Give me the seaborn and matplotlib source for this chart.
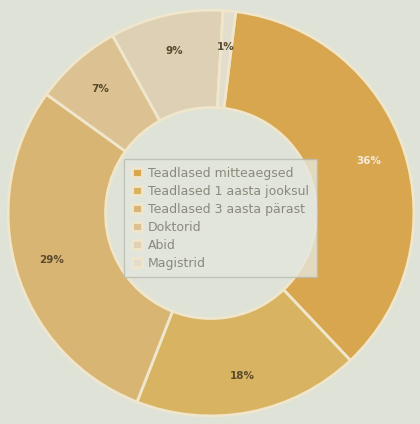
import matplotlib
matplotlib.use("Agg")
import matplotlib.pyplot as plt
import seaborn as sns
import numpy as np

categories = ["Teadlased mitteaegsed", "Teadlased 1 aasta jooksul",
              "Teadlased 3 aasta pärast", "Doktorid", "Abid", "Magistrid"]
values = [36, 18, 29, 7, 9, 1]
pct_labels = ["36%", "18%", "29%", "7%", "9%", "1%"]
colors = ["#d9a650", "#d8b462", "#d9b574", "#dcc293", "#ddd0b4", "#e2ddcc"]

sns.set_theme(style="white")
plt.rcParams['font.family'] = ['DejaVu Sans']
sns.set_palette(colors)

bg = "#dfe2d7"
fig = plt.figure(figsize=(4.2, 4.24), dpi=100, facecolor=bg)
ax = fig.add_axes([0, 0, 1, 1])
ax.set_facecolor(bg)

wedges, _ = ax.pie(values, colors=sns.color_palette(), startangle=83,
                   counterclock=False, radius=1.0,
                   wedgeprops=dict(width=0.48, edgecolor="#efe6cc", linewidth=2))
for w, lab in zip(wedges, pct_labels):
    ang = np.deg2rad((w.theta1 + w.theta2) / 2)
    r = 0.82
    col = "#f4ead8" if lab == "36%" else "#5b4a2c"
    ax.text(r * np.cos(ang), r * np.sin(ang), lab, ha="center", va="center",
            fontsize=7.5, fontweight="bold", color=col)

ax.set_xlim(-1.04, 1.03)
ax.set_ylim(-1.03, 1.04)
ax.set_aspect("equal")

leg = ax.legend(wedges, categories, loc="center", bbox_to_anchor=(0.525, 0.485),
                fontsize=9, frameon=True, facecolor="#e4e6dd", edgecolor="#b9bbb2",
                handlelength=0.8, handleheight=0.8, handletextpad=0.5,
                labelspacing=0.4, borderpad=0.6, fancybox=False)
for t in leg.get_texts():
    t.set_color("#8a8a7c")

fig.savefig("out.png", dpi=100, facecolor=bg)
